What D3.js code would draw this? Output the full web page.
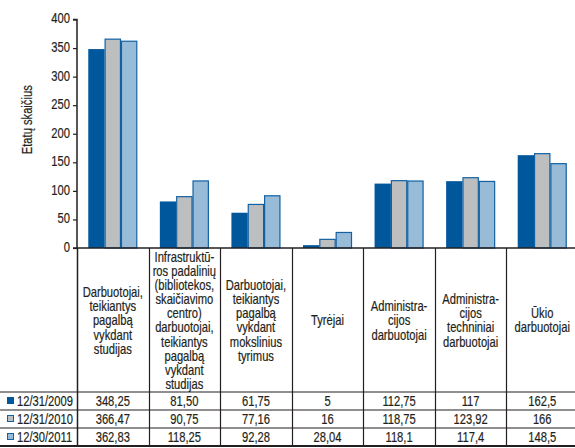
<!DOCTYPE html>
<html>
<head>
<meta charset="utf-8">
<script src="https://cdn.jsdelivr.net/npm/d3@7"></script>
<style>
  html, body { margin: 0; padding: 0; background: #fff; }
  svg { display: block; }
  text { font-family: "Liberation Sans", Arial, sans-serif; fill: #231f20; }
</style>
</head>
<body>
<svg id="chart" width="575" height="448"></svg>
<script>
// Staff categories (column headers, one entry per printed line)
const categories = [
  ["Darbuotojai,", "teikiantys", "pagalbą", "vykdant", "studijas"],
  ["Infrastruktū-", "ros padalinių", "(bibliotekos,", "skaičiavimo", "centro)", "darbuotojai,", "teikiantys", "pagalbą", "vykdant", "studijas"],
  ["Darbuotojai,", "teikiantys", "pagalbą", "vykdant", "mokslinius", "tyrimus"],
  ["Tyrėjai"],
  ["Administra-", "cijos", "darbuotojai"],
  ["Administra-", "cijos", "techniniai", "darbuotojai"],
  ["Ūkio", "darbuotojai"]
];

// Series names
const seriesNames = ["12/31/2009", "12/31/2010", "12/30/2011"];

// Staff counts as printed in the table (decimal comma)
const values2009 = ["348,25", "81,50", "61,75", "5", "112,75", "117", "162,5"];
const values2010 = ["366,47", "90,75", "77,16", "16", "118,75", "123,92", "166"];
const values2011 = ["362,83", "118,25", "92,28", "28,04", "118,1", "117,4", "148,5"];

// Y axis
const yTicks = [0, 50, 100, 150, 200, 250, 300, 350, 400];
const yTitle = "Etatų skaičius";

const seriesValues = [values2009, values2010, values2011];
const fills = ["#00579b", "#bdbec0", "#98bbd8"];
const strokes = ["#00579b", "#1261a3", "#1261a3"];
const toNumber = s => +s.replace(",", ".");

const svg = d3.select("#chart");
const W = 575;
const left = 77, right = 578;
const yTop = 19.5, yBase = 248;
const headerBottom = 392, rowH = 18;
const FS = 14, SX = 0.8; // font size and horizontal condensing factor

// Condensed text: a group placed at (x, y), optionally rotated, squeezed horizontally
function label(parent, x, y, str, anchor, rotate) {
  const g = parent.append("g")
    .attr("transform", `translate(${x},${y})` + (rotate ? ` rotate(${rotate})` : "") + ` scale(${SX},1)`);
  g.append("text")
    .attr("text-anchor", anchor || "start")
    .attr("dy", "0.35em")
    .attr("font-size", FS)
    .attr("stroke", "#231f20")
    .attr("stroke-width", 0.2)
    .text(str);
  return g;
}

const x0 = d3.scaleBand().domain(d3.range(categories.length)).range([left, right]).padding(0);
const x1 = d3.scaleBand().domain(d3.range(seriesNames.length)).range([0, x0.bandwidth()]).paddingInner(0).paddingOuter(0.69);
const y = d3.scaleLinear().domain([0, 400]).range([yBase, yTop]);

// Bars
const groups = svg.append("g").selectAll("g")
  .data(categories.map((c, i) => i))
  .join("g")
  .attr("transform", i => `translate(${x0(i)},0)`);

groups.selectAll("rect")
  .data(i => seriesValues.map((vals, s) => ({ s, v: toNumber(vals[i]) })))
  .join("rect")
  .attr("x", d => x1(d.s) + (d.s ? 0.5 : 0))
  .attr("y", d => y(d.v) + (d.s ? 0.5 : 0))
  .attr("width", d => x1.bandwidth() - (d.s ? 1 : 0))
  .attr("height", d => Math.max(0, yBase - y(d.v) - (d.s ? 0.5 : 0)))
  .attr("fill", d => fills[d.s])
  .attr("stroke", d => d.s ? strokes[d.s] : "none")
  .attr("stroke-width", 1.2);

// Y axis
const yAxis = d3.axisLeft(y).tickValues(yTicks).tickSize(4).tickFormat(() => "");
const ya = svg.append("g").attr("transform", `translate(${left},0)`).call(yAxis);
ya.select(".domain").attr("stroke", "#231f20").attr("stroke-width", 1.5).attr("d", `M-4,${yTop}H0V${yBase}`);
ya.selectAll(".tick line").attr("stroke", "#231f20").attr("stroke-width", 1.2);
const tickLabels = svg.append("g");
yTicks.forEach(t => label(tickLabels, left - 7, y(t) - 1, d3.format("d")(t), "end"));

label(svg, 27, (yTop + yBase) / 2 - 14, yTitle, "middle", -90);

// Data table grid
const grid = svg.append("g").attr("stroke", "#231f20").attr("fill", "none");
grid.append("line").attr("x1", left - 4).attr("x2", W).attr("y1", yBase).attr("y2", yBase).attr("stroke-width", 1.6);
d3.range(categories.length + 1).forEach(i => {
  const xx = i < categories.length ? x0(i) : right;
  grid.append("line")
    .attr("x1", Math.round(xx) + 0.5).attr("x2", Math.round(xx) + 0.5)
    .attr("y1", yBase).attr("y2", headerBottom + rowH * 3)
    .attr("stroke-width", i === 0 ? 1.5 : 1.2);
});
d3.range(4).forEach(r => {
  grid.append("line")
    .attr("x1", 0).attr("x2", W)
    .attr("y1", headerBottom + r * rowH).attr("y2", headerBottom + r * rowH)
    .attr("stroke-width", r === 3 ? 1.8 : 1.1);
});

// Column headers
const lineH = 14.1, headerMid = (yBase + headerBottom) / 2 + 0.5;
const headers = svg.append("g");
categories.forEach((lines, i) => {
  const cx = x0(i) + x0.bandwidth() / 2;
  lines.forEach((ln, k) => {
    label(headers, cx, headerMid + (k - (lines.length - 1) / 2) * lineH, ln, "middle");
  });
});

// Table rows: legend key, name, values
const rows = svg.append("g");
seriesNames.forEach((name, s) => {
  const cy = headerBottom + s * rowH + rowH / 2;
  rows.append("rect")
    .attr("x", 7.5).attr("y", cy - 3.5)
    .attr("width", 6).attr("height", 6)
    .attr("fill", fills[s])
    .attr("stroke", strokes[s])
    .attr("stroke-width", 1);
  label(rows, 17, cy, name, "start");
  seriesValues[s].forEach((v, i) => {
    label(rows, x0(i) + x0.bandwidth() / 2, cy, v, "middle");
  });
});
</script>
</body>
</html>
